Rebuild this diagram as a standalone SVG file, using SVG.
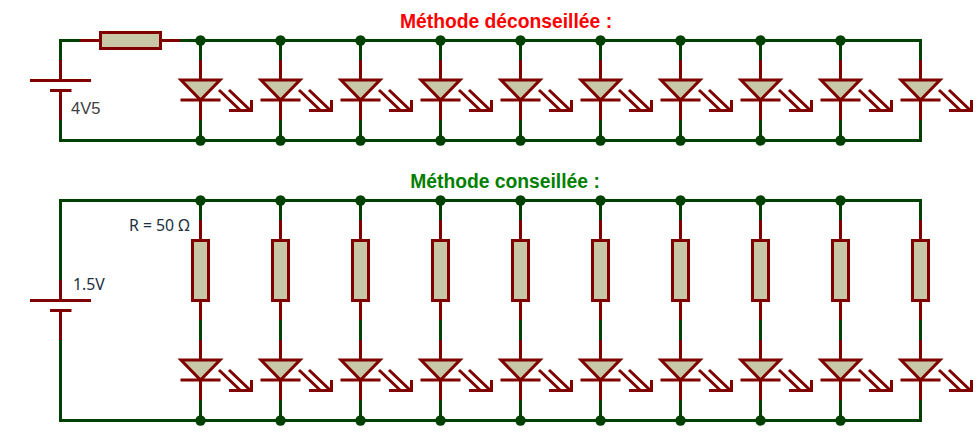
<svg xmlns="http://www.w3.org/2000/svg" xmlns:xlink="http://www.w3.org/1999/xlink" width="980" height="440" viewBox="0 0 980 440">
<style>
.g{fill:none;stroke:#004000;stroke-width:3;stroke-linecap:square}
.r{fill:none;stroke:#800000;stroke-width:3}
.b{fill:#c8c8a8;stroke:#800000;stroke-width:3}
.dot{fill:#004000}
.sans{font-family:"Liberation Sans",Arial,sans-serif}
.lab{font-family:"Noto Sans","Open Sans",sans-serif;font-size:15.8px;fill:#203040}
.title{font-family:"Liberation Sans",Arial,sans-serif;font-size:19.3px;font-weight:bold;text-anchor:middle}
</style>
<defs>
<g id="led">
<path class="r" d="M0.5 0V20M0.5 40V60M-19.5 40H20.5"/>
<path class="b" d="M-19 20H20L0.5 40Z"/>
<path class="r" d="M19 30L41 51M29 30L51 51M29 50.5H51.5V40"/>
</g>
<g id="res">
<path class="r" d="M0.5 20V40M0.5 100V120"/>
<rect class="b" x="-7.5" y="40.5" width="16" height="60"/>
</g>
<circle id="d" class="dot" r="5.2" cx="0.5" cy="0.5"/>
</defs>
<rect width="980" height="440" fill="#fff"/>
<g id="connectors">
<path class="g" d="M60.5 60V40.5H80M180 40.5H920.5V60M920.5 120V140.5H60.5V120"/>
<path class="g" d="M200.5 40V60M280.5 40V60M360.5 40V60M440.5 40V60M520.5 40V60M600.5 40V60M680.5 40V60M760.5 40V60M840.5 40V60"/>
<path class="g" d="M200.5 120V140M280.5 120V140M360.5 120V140M440.5 120V140M520.5 120V140M600.5 120V140M680.5 120V140M760.5 120V140M840.5 120V140"/>
<path class="g" d="M60.5 280V200.5H920.5V220M920.5 320V340M920.5 400V420.5H60.5V340"/>
<path class="g" d="M200.5 200V220M280.5 200V220M360.5 200V220M440.5 200V220M520.5 200V220M600.5 200V220M680.5 200V220M760.5 200V220M840.5 200V220"/>
<path class="g" d="M200.5 320V340M280.5 320V340M360.5 320V340M440.5 320V340M520.5 320V340M600.5 320V340M680.5 320V340M760.5 320V340M840.5 320V340"/>
<path class="g" d="M200.5 400V420M280.5 400V420M360.5 400V420M440.5 400V420M520.5 400V420M600.5 400V420M680.5 400V420M760.5 400V420M840.5 400V420"/>
</g>
<g id="dots">
<use href="#d" x="200" y="40"/><use href="#d" x="280" y="40"/><use href="#d" x="360" y="40"/><use href="#d" x="440" y="40"/><use href="#d" x="520" y="40"/><use href="#d" x="600" y="40"/><use href="#d" x="680" y="40"/><use href="#d" x="760" y="40"/><use href="#d" x="840" y="40"/>
<use href="#d" x="200" y="140"/><use href="#d" x="280" y="140"/><use href="#d" x="360" y="140"/><use href="#d" x="440" y="140"/><use href="#d" x="520" y="140"/><use href="#d" x="600" y="140"/><use href="#d" x="680" y="140"/><use href="#d" x="760" y="140"/><use href="#d" x="840" y="140"/>
<use href="#d" x="200" y="200"/><use href="#d" x="280" y="200"/><use href="#d" x="360" y="200"/><use href="#d" x="440" y="200"/><use href="#d" x="520" y="200"/><use href="#d" x="600" y="200"/><use href="#d" x="680" y="200"/><use href="#d" x="760" y="200"/><use href="#d" x="840" y="200"/>
<use href="#d" x="200" y="420"/><use href="#d" x="280" y="420"/><use href="#d" x="360" y="420"/><use href="#d" x="440" y="420"/><use href="#d" x="520" y="420"/><use href="#d" x="600" y="420"/><use href="#d" x="680" y="420"/><use href="#d" x="760" y="420"/><use href="#d" x="840" y="420"/>
</g>
<g id="battery1"><path class="r" d="M60.5 60V80M60.5 90V120M30 80.5H91M50 90.5H71.5"/></g>
<g id="resistor1"><path class="r" d="M80 40.5H100M160 40.5H180"/><rect class="b" x="100.5" y="32.5" width="60" height="16"/></g>
<g id="battery2"><path class="r" d="M60.5 280V300M60.5 310V340M30 300.5H91M50 310.5H71.5"/></g>
<g id="leds1">
<use href="#led" x="200" y="60"/><use href="#led" x="280" y="60"/><use href="#led" x="360" y="60"/><use href="#led" x="440" y="60"/><use href="#led" x="520" y="60"/><use href="#led" x="600" y="60"/><use href="#led" x="680" y="60"/><use href="#led" x="760" y="60"/><use href="#led" x="840" y="60"/><use href="#led" x="920" y="60"/>
</g>
<g id="resistors2">
<use href="#res" x="200" y="200"/><use href="#res" x="280" y="200"/><use href="#res" x="360" y="200"/><use href="#res" x="440" y="200"/><use href="#res" x="520" y="200"/><use href="#res" x="600" y="200"/><use href="#res" x="680" y="200"/><use href="#res" x="760" y="200"/><use href="#res" x="840" y="200"/><use href="#res" x="920" y="200"/>
</g>
<g id="leds2">
<use href="#led" x="200" y="340"/><use href="#led" x="280" y="340"/><use href="#led" x="360" y="340"/><use href="#led" x="440" y="340"/><use href="#led" x="520" y="340"/><use href="#led" x="600" y="340"/><use href="#led" x="680" y="340"/><use href="#led" x="760" y="340"/><use href="#led" x="840" y="340"/><use href="#led" x="920" y="340"/>
</g>
<text class="title" x="506" y="27.5" fill="#ff0000">Méthode déconseillée :</text>
<text class="title" x="505" y="187.5" fill="#008000">Méthode conseillée :</text>
<text class="sans" x="71" y="114" font-size="16.5" fill="#404040">4V5</text>
<text class="lab" x="129" y="231">R = 50 Ω</text>
<text class="lab" x="73" y="290">1.5V</text>
</svg>
